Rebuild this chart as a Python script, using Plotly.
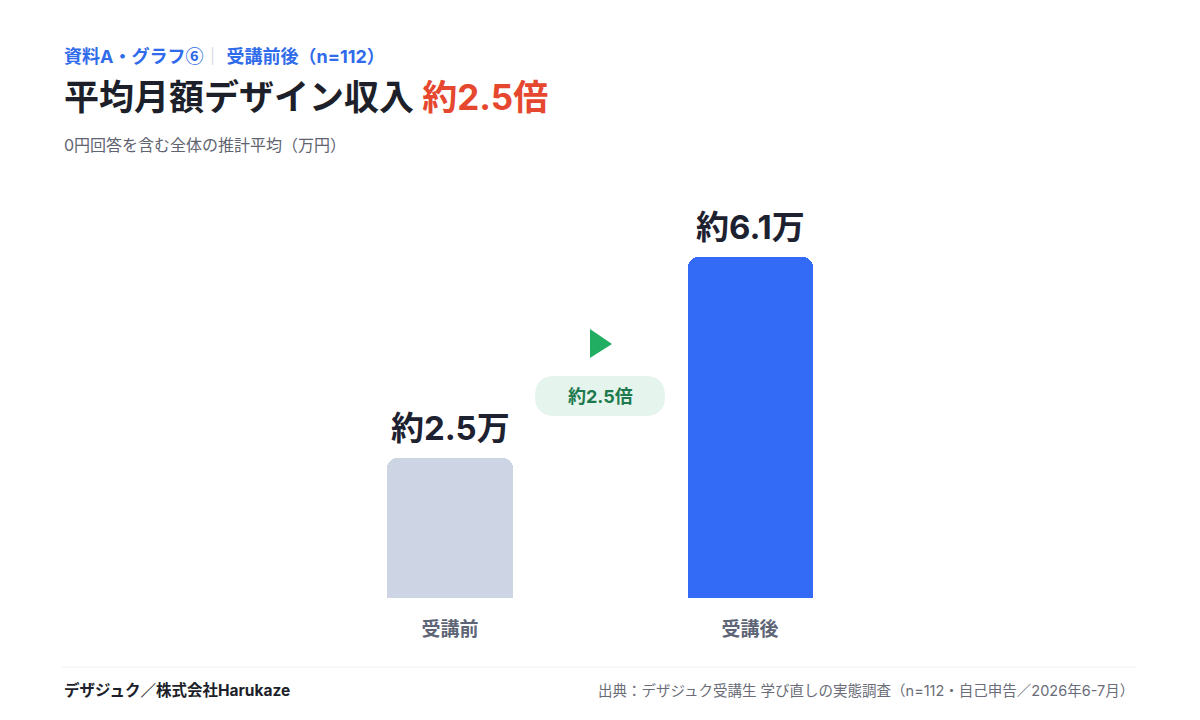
import plotly.graph_objects as go

categories = ["受講前", "受講後"]
values = [2.5, 6.1]
value_labels = ["約2.5万", "約6.1万"]
ratio_label = "約2.5倍"
bar_colors = ["#CDD4E4", "#336AF6"]

W, H = 1200, 720
L, R, T, B = 300, 300, 200, 122
PW, PH = W - L - R, H - T - B
FONT = "Inter, Noto Sans CJK JP"
CJK = "Noto Sans CJK JP"


def px(x):
    return (x - L) / PW


def py(y):
    return (H - B - y) / PH


fig = go.Figure()
fig.add_trace(go.Bar(
    x=categories, y=values, width=0.4167,
    marker=dict(color=bar_colors, cornerradius=10, line=dict(width=0)),
    hoverinfo="skip", cliponaxis=False,
))

annotations = []
for c, v, lab in zip(categories, values, value_labels):
    annotations.append(dict(x=c, y=v, xref="x", yref="y", text=f"<b>{lab}</b>",
                            showarrow=False, yanchor="bottom", yshift=8,
                            font=dict(family=FONT, size=33, color="#1E2130")))

# header
annotations += [
    dict(x=px(62), y=py(55), xref="paper", yref="paper", xanchor="left", yanchor="middle",
         showarrow=False,
         text=("<b>資料A・グラフ</b><span style='font-family:Noto Sans CJK JP'><b>⑥</b></span>"
               "<span style='color:#C9CDD6'>｜ </span><b>受講前後（n=112）</b>"),
         font=dict(family=FONT, size=18, color="#2F6BEA")),
    dict(x=px(62), y=py(97), xref="paper", yref="paper", xanchor="left", yanchor="middle",
         showarrow=False,
         text="<b>平均月額デザイン収入 </b><b><span style='color:#E5482F'>約2.5倍</span></b>",
         font=dict(family=FONT, size=35, color="#1D1F2A")),
    dict(x=px(62), y=py(145), xref="paper", yref="paper", xanchor="left", yanchor="middle",
         showarrow=False, text="0円回答を含む全体の推計平均（万円）",
         font=dict(family=FONT, size=16, color="#606470")),
    dict(x=px(62), y=py(690), xref="paper", yref="paper", xanchor="left", yanchor="middle",
         showarrow=False, text="<b>デザジュク／株式会社Harukaze</b>",
         font=dict(family=FONT, size=15.5, color="#1D1F2A")),
    dict(x=px(1136), y=py(690), xref="paper", yref="paper", xanchor="right", yanchor="middle",
         showarrow=False,
         text="出典：デザジュク受講生 学び直しの実態調査（n=112・自己申告／2026年6-7月）",
         font=dict(family=FONT, size=14.5, color="#6A6D78")),
    dict(x=px(600), y=py(396), xref="paper", yref="paper", xanchor="center", yanchor="middle",
         showarrow=False, text=f"<b>{ratio_label}</b>",
         font=dict(family=FONT, size=18, color="#1E7A4E")),
]

# pill background (rounded) in paper coords
x0, x1, y0, y1, r = 535, 665, 376, 416, 20
def P(x, y):
    return f"{px(x):.5f},{py(y):.5f}"
pill = (f"M{P(x0 + r, y0)} L{P(x1 - r, y0)} Q{P(x1, y0)} {P(x1, y0 + r)} "
        f"Q{P(x1, y1)} {P(x1 - r, y1)} L{P(x0 + r, y1)} Q{P(x0, y1)} {P(x0, y1 - r)} "
        f"Q{P(x0, y0)} {P(x0 + r, y0)} Z")
shapes = [
    dict(type="path", xref="paper", yref="paper", path=pill,
         fillcolor="#E5F4EC", line=dict(width=0), layer="below"),
    dict(type="path", xref="paper", yref="paper",
         path=f"M{P(590, 329)} L{P(612, 344)} L{P(590, 358)} Z",
         fillcolor="#22AE62", line=dict(width=0)),
    dict(type="line", xref="paper", yref="paper", x0=px(62), x1=px(1136),
         y0=py(667), y1=py(667), line=dict(color="#EEF0F4", width=1)),
]

fig.update_layout(
    width=W, height=H,
    margin=dict(l=L, r=R, t=T, b=B),
    paper_bgcolor="white", plot_bgcolor="white",
    showlegend=False,
    bargap=0,
    xaxis=dict(range=[-0.5, 1.5], showgrid=False, zeroline=False, showline=False,
               ticks="", tickfont=dict(family=CJK, size=19, color="#5E6577"),
               ticklabelstandoff=18,
               tickvals=categories,
               ticktext=[f"<b>{c}</b>" for c in categories]),
    yaxis=dict(range=[0, 7.12], visible=False, showgrid=False, zeroline=False, fixedrange=True),
    annotations=annotations,
    shapes=shapes,
    font=dict(family=FONT),
)

fig.write_html("out.html")
